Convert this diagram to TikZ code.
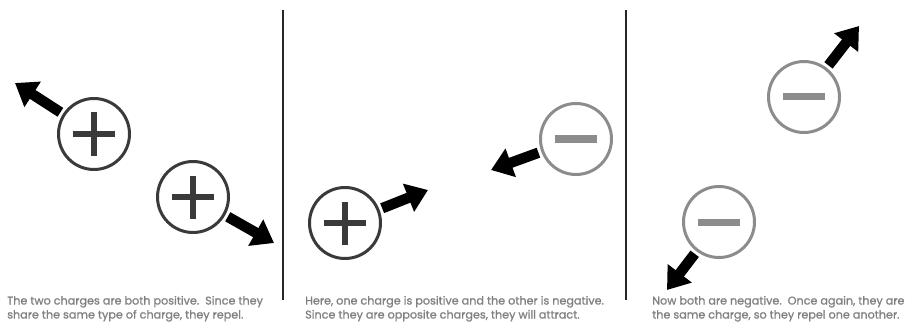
\documentclass[tikz,border=0pt]{standalone}
\usepackage{fontspec}
\setmainfont{Poppins}[FakeBold=1.1]
\usetikzlibrary{arrows.meta}
\definecolor{darkc}{HTML}{3A3A3A}
\definecolor{lightc}{HTML}{8C8C8C}
\definecolor{txtc}{HTML}{808080}
\tikzset{
  charge/.style={circle, minimum size=71pt, line width=3pt, inner sep=0pt, fill=white},
  poscharge/.style={charge, draw=darkc,
    path picture={\draw[line width=6.5pt,darkc]
      (path picture bounding box.center) ++(-21pt,0pt) -- ++(42pt,0pt)
      (path picture bounding box.center) ++(0pt,-21.5pt) -- ++(0pt,43pt);}},
  negcharge/.style={charge, draw=lightc,
    path picture={\draw[line width=7pt,lightc]
      (path picture bounding box.center) ++(-21pt,0pt) -- ++(42pt,0pt);}},
  push/.style={line width=10.5pt, black, shorten <=3pt, -{Triangle[length=21pt,width=29pt]}},
  divider/.style={line width=2pt, black!85},
  caption/.style={font=\fontsize{11.2}{14}\selectfont, text=txtc, inner sep=0pt, anchor=base west}
}
\begin{document}
\begin{tikzpicture}[x=1pt,y=-1pt]
\useasboundingbox (0,0) rectangle (915,334);
% dividers
\coordinate (d1a) at (283,10); \coordinate (d1b) at (283,300);
\coordinate (d2a) at (626,10); \coordinate (d2b) at (626,300);
\draw[divider] (d1a) -- (d1b);
\draw[divider] (d2a) -- (d2b);
% panel 1
\node[poscharge] (p1) at (94,134) {};
\node[poscharge] (p2) at (193,197) {};
\coordinate (t1) at (15,83);
\coordinate (t2) at (274,243);
\draw[push] (p1) -- (t1);
\draw[push] (p2) -- (t2);
% panel 2
\node[poscharge] (p3) at (345,223) {};
\node[negcharge] (n1) at (576,139) {};
\coordinate (t3) at (428,190);
\coordinate (t4) at (491,170);
\draw[push] (p3) -- (t3);
\draw[push] (n1) -- (t4);
% panel 3
\node[negcharge] (n2) at (804,97) {};
\node[negcharge] (n3) at (719,222) {};
\coordinate (t5) at (859,26);
\coordinate (t6) at (667,290);
\draw[push] (n2) -- (t5);
\draw[push] (n3) -- (t6);
% captions
\node[caption] (c1a) at (7,304.5) {The two charges are both positive.\ \ Since they};
\node[caption] (c1b) at (7,318.5) {share the same type of charge, they repel.};
\node[caption] (c2a) at (305,304.5) {Here, one charge is positive and the other is negative.};
\node[caption] (c2b) at (305,318.5) {Since they are opposite charges, they will attract.};
\node[caption] (c3a) at (652,304.5) {Now both are negative.\ \ Once again, they are};
\node[caption] (c3b) at (652,318.5) {the same charge, so they repel one another.};
\end{tikzpicture}
\end{document}
